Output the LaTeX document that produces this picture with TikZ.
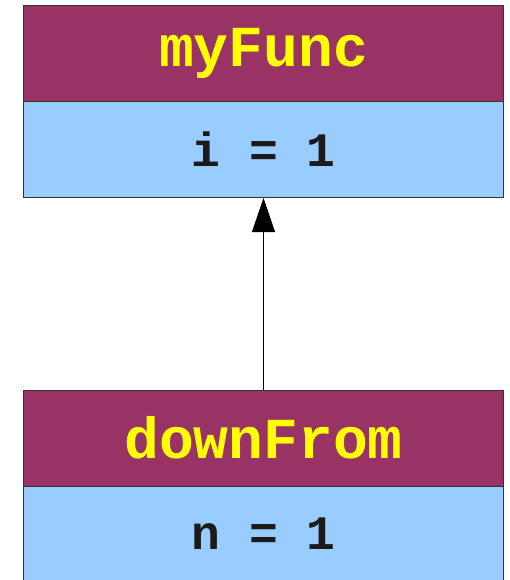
\documentclass[tikz,border=0pt]{standalone}
\usepackage{fontspec}
\newfontfamily\codefont{Liberation Mono}
\usetikzlibrary{arrows.meta}
\definecolor{hdr}{HTML}{993366}
\definecolor{bdy}{HTML}{99CCFF}
\definecolor{ylw}{HTML}{FFFF00}
\definecolor{txt}{HTML}{1A1A1A}
\definecolor{edge}{HTML}{333333}
\tikzset{
  hdrbox/.style={draw=edge, line width=1pt, fill=hdr, minimum width=480pt, minimum height=96pt, inner sep=0pt,
    font=\codefont\bfseries\fontsize{58}{58}\selectfont, text=ylw},
  bdybox/.style={draw=edge, line width=1pt, fill=bdy, minimum width=480pt, minimum height=96pt, inner sep=0pt,
    font=\codefont\bfseries\fontsize{48}{48}\selectfont, text=txt},
}
\begin{document}
\begin{tikzpicture}[x=1pt,y=-1pt]
\useasboundingbox (0,0) rectangle (509,580);
\clip (0,0) rectangle (509,580);
\node[hdrbox] (mfhead) at (263.5,53.5) {myFunc};
\node[bdybox] (mfbody) at (263.5,149.5) {i = 1};
\node[hdrbox] (dfhead) at (263.5,438) {downFrom};
\node[bdybox] (dfbody) at (263.5,534) {n = 1};
\draw[line width=0.8pt, -{Triangle[length=34pt,width=23pt]}] (dfhead.north) -- (mfbody.south);
\end{tikzpicture}
\end{document}
